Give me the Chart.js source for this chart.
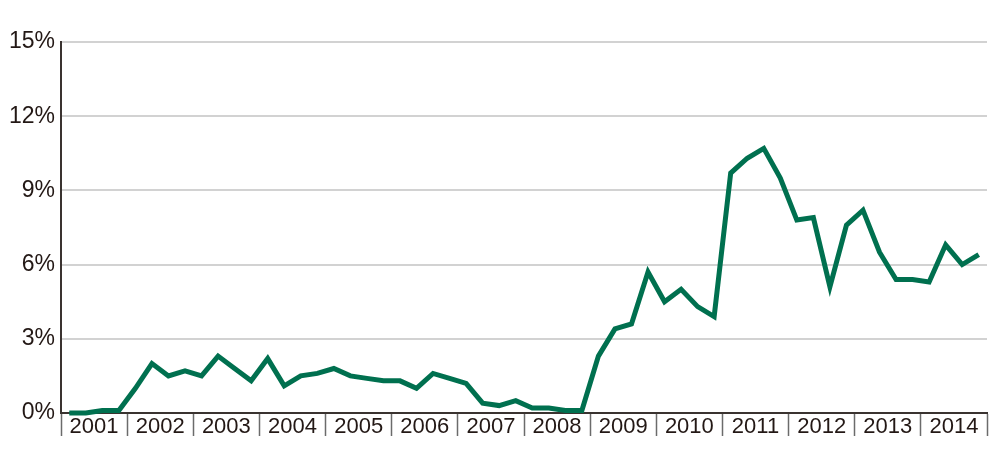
<!DOCTYPE html>
<html>
<head>
<meta charset="utf-8">
<script src="https://cdn.jsdelivr.net/npm/chart.js@4/dist/chart.umd.min.js"></script>
<style>
  html, body { margin: 0; padding: 0; background: #ffffff; }
  #wrap { width: 1000px; height: 450px; position: relative; }
</style>
</head>
<body>
<div id="wrap"><canvas id="c" width="1000" height="450"></canvas></div>
<script>
// Year labels (each year has four quarterly observations)
const years = ['2001','2002','2003','2004','2005','2006','2007','2008','2009','2010','2011','2012','2013','2014'];
// Quarterly values, percent
const values2001_2004 = [0, 0, 0.1, 0.1, 1.0, 2.0, 1.5, 1.7, 1.5, 2.3, 1.8, 1.3, 2.2, 1.1, 1.5, 1.6];
const values2005_2008 = [1.8, 1.5, 1.4, 1.3, 1.3, 1.0, 1.6, 1.4, 1.2, 0.4, 0.3, 0.5, 0.2, 0.2, 0.1, 0.1];
const values2009_2014 = [2.3, 3.4, 3.6, 5.7, 4.5, 5.0, 4.3, 3.9, 9.7, 10.3, 10.7, 9.5, 7.8, 7.9, 5.1, 7.6,
                         8.2, 6.5, 5.4, 5.4, 5.3, 6.8, 6.0, 6.4];
const values = values2001_2004.concat(values2005_2008, values2009_2014);
const yTicks = [0, 3, 6, 9, 12, 15];

const points = values.map((v, i) => ({ x: i + 0.5, y: v }));
const nQ = years.length * 4;

const textColor = '#231815';
const fontFamily = '"Liberation Sans", Arial, sans-serif';

new Chart(document.getElementById('c'), {
  type: 'line',
  data: {
    datasets: [{
      data: points,
      borderColor: '#00704f',
      borderWidth: 5,
      borderJoinStyle: 'miter',
      pointRadius: 0,
      tension: 0,
      fill: false,
      clip: false
    }]
  },
  options: {
    responsive: false,
    animation: false,
    events: [],
    layout: { padding: { top: 42, right: 13, bottom: 0, left: 0 } },
    plugins: { legend: { display: false }, tooltip: { enabled: false } },
    scales: {
      x: {
        type: 'linear',
        min: 0,
        max: nQ,
        afterBuildTicks: (scale) => {
          const t = [];
          for (let v = 0; v <= nQ; v += 2) t.push({ value: v });
          scale.ticks = t;
        },
        afterFit: (scale) => { scale.height = 37; },
        grid: {
          drawOnChartArea: false,
          drawTicks: true,
          tickLength: 23,
          tickWidth: 1.5,
          tickColor: (ctx) => (ctx.tick && ctx.tick.value % 4 === 0) ? '#6b6b6b' : 'rgba(0,0,0,0)'
        },
        border: { display: true, color: '#3a3330', width: 2 },
        ticks: {
          autoSkip: false,
          maxRotation: 0,
          minRotation: 0,
          padding: -22,
          color: textColor,
          font: { family: fontFamily, size: 22 },
          callback: (v) => (v % 4 === 2) ? years[(v - 2) / 4] : ''
        }
      },
      y: {
        min: 0,
        max: 15,
        afterBuildTicks: (scale) => { scale.ticks = yTicks.map(v => ({ value: v })); },
        afterFit: (scale) => { scale.width = 61; },
        grid: {
          drawTicks: false,
          color: '#d2d2d2',
          lineWidth: 2
        },
        border: { display: true, color: '#3a3330', width: 2 },
        ticks: {
          padding: 6,
          color: textColor,
          font: { family: fontFamily, size: 23 },
          callback: (v) => v + '%'
        }
      }
    }
  }
});
</script>
</body>
</html>
